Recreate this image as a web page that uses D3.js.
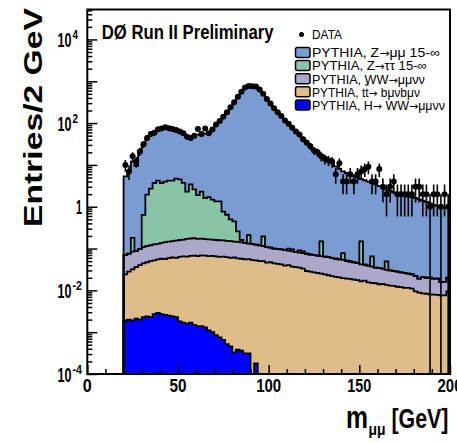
<!DOCTYPE html>
<html><head><meta charset="utf-8">
<script src="https://cdn.jsdelivr.net/npm/d3@7"></script>
<style>html,body{margin:0;padding:0;background:#fff;}svg{display:block;}</style>
</head><body>
<svg id="c" width="457" height="442"></svg>
<script>
// ---------------- data ----------------
const binEdges = d3.range(20, 202, 2);           // 2 GeV bins, 20..200
const hww = [0.0019,0.0020,0.0019,0.0021,0.0020,0.0023,0.0024,0.0023,0.0027,0.0029,
 0.0027,0.0026,0.0025,0.0024,0.0023,0.0018,0.0017,0.0016,0.0017,0.0015,
 0.0014,0.0014,0.0013,0.0011,0.0010,0.00085,0.00075,0.00065,0.00052,0.00046,
 0.00033,0.00038,0.00036,0.00031,0.00031,0,0.00018,0,0,0,
 0,0,0,0,0,0,0,0,0,0, 0,0,0,0,0,0,0,0,0,0, 0,0,0,0,0,0,0,0,0,0,
 0,0,0,0,0,0,0,0,0,0, 0,0,0,0,0,0,0,0,0,0];
const ttbar = [0.0221,0.026,0.0301,0.0339,0.038,0.0417,0.0446,0.0477,0.0493,0.0521,
 0.0543,0.0534,0.0565,0.0586,0.0577,0.0612,0.0633,0.0624,0.0653,0.0665,
 0.0646,0.0676,0.0667,0.0649,0.066,0.0642,0.0622,0.0633,0.0615,0.0595,
 0.0607,0.0576,0.0566,0.0547,0.0557,0.053,0.0518,0.050,0.050,0.046,
 0.047,0.044,0.043,0.042,0.039,0.040,0.037,0.036,0.035,0.033,
 0.029,0.028,0.027,0.026,0.025,0.024,0.023,0.022,0.021,0.0205,
 0.0196,0.019,0.0188,0.018,0.0175,0.0165,0.017,0.0155,0.015,0.0148,
 0.014,0.0142,0.0135,0.013,0.0128,0.0122,0.012,0.0115,0.0115,0.011,
 0.0095,0.0088,0.0085,0.0083,0.008,0.0079,0.0078,0.0076,0.0076,0.0095];
const ww = [0.046,0.048,0.052,0.052,0.058,0.064,0.068,0.070,0.074,0.075,
 0.079,0.086,0.087,0.089,0.095,0.097,0.099,0.106,0.107,0.108,
 0.104,0.103,0.100,0.100,0.096,0.095,0.095,0.092,0.090,0.090,
 0.086,0.086,0.083,0.081,0.076,0.075,0.072,0.070,0.065,0.064,
 0.058,0.056,0.055,0.053,0.053,0.049,0.049,0.047,0.045,0.045,
 0.046,0.044,0.043,0.042,0.041,0.040,0.039,0.037,0.036,0.0345,
 0.0344,0.032,0.0302,0.029,0.0275,0.0255,0.024,0.0235,0.022,0.0202,
 0.020,0.0188,0.0175,0.017,0.0162,0.0158,0.015,0.0145,0.0135,0.013,
 0.0125,0.0102,0.0125,0.0117,0.012,0.0111,0.0112,0.0084,0.0084,0.0105];
const ztautau = [0,0,0.096,0,0,0.53,1.83,2.6,3.57,4.07,
 3.56,3.86,4.05,4.05,4.55,4.34,3.54,2.13,3.23,2.42,
 1.73,2.13,1.43,1.53,1.31,1.18,1.18,0.61,0.49,0.35,
 0.30,0.113,0.02,0,0.078,0,0,0,0.08,0,
 0,0,0,0,0,0.011,0.009,0,0.01,0.007,
 0,0,0,0,0.082,0,0,0,0,0,
 0.024,0,0,0,0,0.106,0,0,0.028,0,
 0,0,0.018,0,0,0,0,0,0,0,
 0,0,0,0,0,0,0,0,0,0];
const zmumu = [5.23,6.92,11.82,9.41,19.9,29.36,40.06,49.28,54.3,63.8,
 72.3,73.0,68.8,65.8,62.3,57.5,52.3,46.7,41.6,44.4,
 51.1,55.7,54.4,58.3,68.5,88.7,108.7,139.2,179.4,239.5,
 309.6,419.7,569.8,699.9,759.8,769.9,739.9,639.9,499.8,379.9,
 289.9,227.9,182.9,149.9,117.9,94.9,77.9,63.9,51.9,41.9,
 33.9,27.4,22.9,19.43,16.85,14.94,12.94,10.94,9.14,7.95,
 6.92,6.35,5.85,5.35,4.96,4.45,4.26,3.96,3.64,3.37,
 3.07,2.87,2.55,2.37,2.17,2.07,1.97,1.82,1.73,1.68,
 1.58,1.48,1.38,1.28,1.18,1.08,1.03,0.98,0.93,0.93];
const dataCounts = [10,7,16,12,21,31,44,55,59,71,
 74,79,75,72,68,63,57,47,44,50,
 72,55,74,57,70,92,112,142,182,238,
 315,425,565,705,770,765,745,635,505,375,
 292,226,182,148,116,97,77,63,53,41,
 34,28,22,20,16,14,13,12,6,11,
 4,4,6,4,6,7,8,9,4,4,
 8,3,2,3,4,2,2,2,2,2,
 3,3,2,2,1,2,2,1,2,1];

const yTickExps = [4, 2, 0, -2, -4];
const xTickLabels = [0, 50, 100, 150, 200];
const keys = ["hww","ttbar","ww","ztautau","zmumu"];
const colors = {zmumu:"#7b9bd3", ztautau:"#87c5a6", ww:"#aca8c9", ttbar:"#dfbd8b", hww:"#0000ff"};
const legendEntries = [
  {key:"zmumu",   parts:["PYTHIA, Z",{arrow:true},"\u03bc\u03bc 15-\u221e"], len:128},
  {key:"ztautau", parts:["PYTHIA, Z",{arrow:true},"\u03c4\u03c4 15-\u221e"], len:115},
  {key:"ww",      parts:["PYTHIA, WW",{arrow:true},"\u03bc\u03bc\u03bd\u03bd"], len:113},
  {key:"ttbar",   parts:["PYTHIA, t",{over:"t"},{arrow:true}," b\u03bc\u03bdb\u03bc\u03bd"], len:108},
  {key:"hww",     parts:["PYTHIA, H",{arrow:true}," WW",{arrow:true},"\u03bc\u03bc\u03bd\u03bd"], len:133}
];

// ---------------- chart ----------------
const svg = d3.select("#c");
const FONT = "'Liberation Sans', Arial, Helvetica, sans-serif";
svg.append("rect").attr("width",457).attr("height",442).attr("fill","#fff");
const X0 = 87.3, X1 = 450, Y0 = 374, Y1 = 9.5;
const x = d3.scaleLinear().domain([0,200]).range([X0,X1]);
const y = d3.scaleLog().domain([1e-4, 5.2e4]).range([Y0,Y1]);
const yMin = 1e-4;
const cy = v => y(Math.max(v, yMin));

svg.append("defs").append("clipPath").attr("id","clip")
  .append("rect").attr("x",X0).attr("y",Y1).attr("width",X1-X0).attr("height",Y0-Y1);
const plot = svg.append("g").attr("clip-path","url(#clip)");

const src = {hww,ttbar,ww,ztautau,zmumu};
const rows = dataCounts.map((_,i)=>{const r={}; keys.forEach(k=>{r[k]=src[k][i];}); return r;});
const series = d3.stack().keys(keys)(rows);

function topPoints(s){
  const pts=[{x:binEdges[0],v:yMin}];
  s.forEach((d,i)=>{pts.push({x:binEdges[i],v:d[1]});pts.push({x:binEdges[i+1],v:d[1]});});
  pts.push({x:binEdges[binEdges.length-1],v:yMin});
  return pts;
}
const area = d3.area().x(p=>x(p.x)).y0(y(yMin)).y1(p=>cy(p.v));
const line = d3.line().x(p=>x(p.x)).y(p=>cy(p.v));
for(let k=series.length-1;k>=0;k--){
  plot.append("path").attr("d",area(topPoints(series[k]))).attr("fill",colors[series[k].key]);
}
for(let k=series.length-1;k>=0;k--){
  plot.append("path").attr("d",line(topPoints(series[k]))).attr("fill","none")
    .attr("stroke","#000").attr("stroke-width",1.8).attr("stroke-linejoin","miter");
}
const centers = dataCounts.map((_,i)=>(binEdges[i]+binEdges[i+1])/2);
const dg = plot.append("g");
dataCounts.forEach((n,i)=>{
  if(n<=0) return;
  const e=Math.sqrt(n);
  dg.append("line").attr("x1",x(centers[i])).attr("x2",x(centers[i]))
    .attr("y1",cy(n-e)).attr("y2",cy(n+e)).attr("stroke","#000").attr("stroke-width",1.6);
  dg.append("circle").attr("cx",x(centers[i])).attr("cy",cy(n)).attr("r",3).attr("fill","#000");
});

svg.append("rect").attr("x",X0).attr("y",Y1).attr("width",X1-X0).attr("height",Y0-Y1)
  .attr("fill","none").attr("stroke","#000").attr("stroke-width",2);

const decades = d3.range(-4,5).map(e=>Math.pow(10,e));
const minors = [];
d3.range(-4,5).forEach(e=>{for(let m=2;m<=9;m++){const v=m*Math.pow(10,e); if(v<5.2e4) minors.push(v);}});
function styleAxis(g){g.select(".domain").remove(); g.selectAll("line").attr("stroke","#000").attr("stroke-width",1.5); g.selectAll("text").remove();}
svg.append("g").attr("transform",`translate(${X0},0)`).call(d3.axisRight(y).tickValues(decades).tickSize(10).tickFormat("")).call(styleAxis);
svg.append("g").attr("transform",`translate(${X0},0)`).call(d3.axisRight(y).tickValues(minors).tickSize(5).tickFormat("")).call(styleAxis);
svg.append("g").attr("transform",`translate(0,${Y0})`).call(d3.axisTop(x).tickValues(xTickLabels).tickSize(9).tickFormat("")).call(styleAxis);
svg.append("g").attr("transform",`translate(0,${Y0})`).call(d3.axisTop(x).tickValues(d3.range(10,200,10).filter(v=>v%50)).tickSize(5).tickFormat("")).call(styleAxis);

// text helper: natural text squeezed/stretched horizontally to a target width by a transform
function txt(s, xx, yy, size, len, weight, rot){
  const g = svg.append("g");
  const t = g.append("text").attr("font-family",FONT).attr("font-size",size)
    .attr("font-weight",weight||"bold").attr("fill","#000");
  if(typeof s==="function") s(t); else t.text(s);
  const nat = t.node().getComputedTextLength();
  const sx = len ? len/nat : 1;
  g.attr("transform",`translate(${xx},${yy})${rot?` rotate(${rot})`:""} scale(${sx},1)`);
  return t;
}
yTickExps.forEach(e=>{
  const ty = y(Math.pow(10,e));
  if(e===0){ txt("1", 76, ty+7.5, 21, 6); return; }
  txt("10", 57.5, ty+7.5, 21, 14);
  const sup = String(e);
  txt(sup, 72.5, ty-0.5, 13, sup.length>1?9.5:5.5);
});
const xlen = {0:9,50:17,100:25,150:24,200:25};
xTickLabels.forEach(v=>{ txt(String(v), x(v)-xlen[v]/2, 392, 19, xlen[v]); });

txt("m", 346, 428, 31, 22);
txt("\u03bc\u03bc", 368.5, 435, 16, 17);
txt("[GeV]", 391.5, 428, 27, 57);
txt("Entries/2 GeV", 41.7, 227, 26, 219, "bold", -90);

txt("D\u00d8 Run II Preliminary", 101.7, 39.3, 21, 172);

svg.append("circle").attr("cx",301.5).attr("cy",34.5).attr("r",2.5).attr("fill","#000");
txt("DATA", 312, 38.5, 12.5, 30, "normal");
legendEntries.forEach((d,i)=>{
  const by = 47.5 + 13.1*i;
  svg.append("rect").attr("x",295.5).attr("y",by).attr("width",14.5).attr("height",10).attr("rx",2)
    .attr("fill",colors[d.key]).attr("stroke","#000").attr("stroke-width",1.5);
  txt(t=>{
    d.parts.forEach(p=>{
      if(typeof p==="string") t.append("tspan").text(p);
      else if(p.arrow) t.append("tspan").attr("font-family","'DejaVu Sans', sans-serif").attr("font-size",11).text("\u2192");
      else if(p.over) t.append("tspan").style("text-decoration","overline").text(p.over);
    });
  }, 312, by+9.8, 12.5, d.len, "normal");
});
</script>
</body></html>
